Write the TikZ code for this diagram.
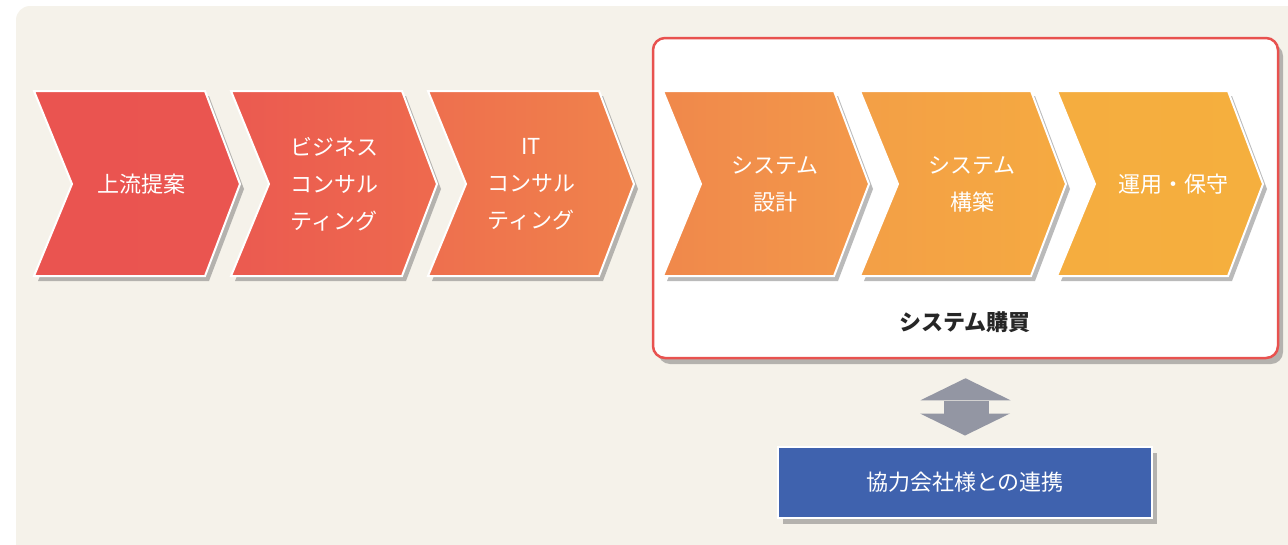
\documentclass[tikz,border=0pt]{standalone}
\usepackage{fontspec}
\setmainfont{Noto Sans CJK JP}
\usetikzlibrary{shadows,calc}

\definecolor{bgbeige}{HTML}{F5F2EA}
\definecolor{buyred}{HTML}{E8524F}
\definecolor{partnerblue}{HTML}{3F62AE}
\definecolor{arrowgray}{HTML}{9396A3}
\definecolor{ch1a}{HTML}{EA5450}\definecolor{ch1b}{HTML}{EA5550}
\definecolor{ch2a}{HTML}{EB5A50}\definecolor{ch2b}{HTML}{EE6A4E}
\definecolor{ch3a}{HTML}{EE6F4E}\definecolor{ch3b}{HTML}{F0834B}
\definecolor{ch4a}{HTML}{F0884B}\definecolor{ch4b}{HTML}{F3994A}
\definecolor{ch5a}{HTML}{F39F46}\definecolor{ch5b}{HTML}{F5AA41}
\definecolor{ch6a}{HTML}{F5AD3F}\definecolor{ch6b}{HTML}{F5AF3E}

\begin{document}
\begin{tikzpicture}[x=1pt,y=-1pt,
  chev/.style={draw=white, line width=2pt,
    drop shadow={shadow xshift=4pt, shadow yshift=-5pt, fill=black!60, opacity=.45}},
  chevtext/.style={text=white, align=center, font=\fontsize{22}{37}\selectfont},
  box/.style={inner sep=0pt, drop shadow={shadow xshift=5pt, shadow yshift=-6pt, fill=black!60, opacity=.45}}]
\useasboundingbox (0,0) rectangle (1288,544);
\fill[bgbeige, rounded corners=14pt] (16,6) rectangle (1310,570);

% Rahmen fuer den Systemeinkauf
\node[box, draw=buyred, line width=2.5pt, fill=white, rounded corners=12pt,
  minimum width=625pt, minimum height=320pt] (buy) at (965.5,198) {};
\node[text=black!85, font=\bfseries\fontsize{22}{24}\selectfont] (buylbl) at (965,322) {システム購買};

% Pfeilkette
\foreach \i/\l/\o/\t in {1/34/107/上流提案, 2/231/103/{ビジネス\\コンサル\\ティング}, 3/428/103/{IT\\コンサル\\ティング},
                      4/663/112/{システム\\設計}, 5/860/112/{システム\\構築}, 6/1057/116/運用・保守}{
  \shade[chev, left color=ch\i a, right color=ch\i b]
    (\l,91) -- ++(171,0) -- ++(35,93) -- ++(-35,92) -- ++(-171,0) -- ++(38,-92) -- cycle;
  \node[chevtext] (step\i) at (\l+\o,184) {\t};
}

% Partnerfirmen
\node[box, draw=white, line width=2pt, fill=partnerblue, text=white,
  minimum width=374pt, minimum height=71pt, font=\fontsize{22}{26}\selectfont] (partner) at (965,482) {協力会社様との連携};

% Doppelpfeil
\coordinate (atop) at ([yshift=-19pt]buy.south);
\coordinate (abot) at ([yshift=10pt]partner.north);
\fill[arrowgray] (atop) -- ++(45,22) -- ++(-90,0) -- cycle;
\fill[arrowgray] ($(atop)+(-22,23)$) rectangle ++(45,13);
\fill[arrowgray] (abot) -- ++(45,-22) -- ++(-90,0) -- cycle;
\end{tikzpicture}
\end{document}
